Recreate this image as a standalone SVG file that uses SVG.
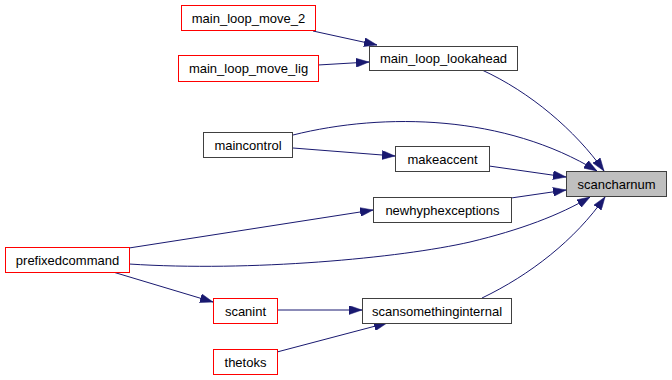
<svg xmlns="http://www.w3.org/2000/svg" width="672" height="380" viewBox="0 0 672 380">
  <style>
    .node rect { fill: #ffffff; stroke: #404040; stroke-width: 1; }
    .node.ext rect { stroke: #ff0000; }
    .node.root rect { fill: #bfbfbf; }
    .node text { font-family: "Liberation Sans", Arial, sans-serif; font-size: 13px; fill: #000000; text-anchor: middle; }
    .edges path { fill: none; stroke: #191970; stroke-width: 1; marker-end: url(#arrow); }
  </style>
  <defs>
    <marker id="arrow" viewBox="0 0 13 9" markerWidth="13" markerHeight="9" refX="13" refY="4.5" orient="auto" markerUnits="userSpaceOnUse">
      <path d="M0,0 L13,4.5 L0,9 z" fill="#191970" stroke="#191970" stroke-width="0.5"/>
    </marker>
  </defs>
  <rect width="672" height="380" fill="#ffffff"/>

  <g class="edges">
    <path d="M313,31 L377,45"/>
    <path d="M318,65 L369,62"/>
    <path d="M482,70 C530,92 575,130 604,171"/>
    <path d="M293,135 C385,112 505,115 597,171"/>
    <path d="M293,148 L395,156"/>
    <path d="M489,166 L566,177"/>
    <path d="M511,198 L566,190"/>
    <path d="M129,248 L373,210"/>
    <path d="M129,264 C250,272 400,258 470,242 C520,230 560,215 590,197"/>
    <path d="M113,272 L213,302"/>
    <path d="M277,310 L362,310"/>
    <path d="M277,352 L387,323"/>
    <path d="M482,298 C530,275 575,240 605,197"/>
  </g>

  <g id="node-main_loop_move_2" class="node ext">
    <rect x="181.5" y="5.5" width="134" height="25"/>
    <text x="248.5" y="22.5">main_loop_move_2</text>
  </g>
  <g id="node-main_loop_move_lig" class="node ext">
    <rect x="178.5" y="55.5" width="140" height="26"/>
    <text x="248.5" y="73">main_loop_move_lig</text>
  </g>
  <g id="node-main_loop_lookahead" class="node">
    <rect x="369.5" y="46.5" width="148" height="24"/>
    <text x="443.5" y="63">main_loop_lookahead</text>
  </g>
  <g id="node-maincontrol" class="node">
    <rect x="203.5" y="132.5" width="89" height="25"/>
    <text x="248" y="149.5">maincontrol</text>
  </g>
  <g id="node-makeaccent" class="node">
    <rect x="395.5" y="146.5" width="94" height="25"/>
    <text x="442.5" y="163.5">makeaccent</text>
  </g>
  <g id="node-scancharnum" class="node root">
    <rect x="566.5" y="171.5" width="100" height="25"/>
    <text x="616.5" y="188.5">scancharnum</text>
  </g>
  <g id="node-newhyphexceptions" class="node">
    <rect x="373.5" y="197.5" width="138" height="25"/>
    <text x="442.5" y="214.5">newhyphexceptions</text>
  </g>
  <g id="node-prefixedcommand" class="node ext">
    <rect x="5.5" y="247.5" width="124" height="25"/>
    <text x="67.5" y="264.5">prefixedcommand</text>
  </g>
  <g id="node-scanint" class="node ext">
    <rect x="213.5" y="298.5" width="64" height="25"/>
    <text x="245.5" y="315.5">scanint</text>
  </g>
  <g id="node-scansomethinginternal" class="node">
    <rect x="362.5" y="298.5" width="149" height="25"/>
    <text x="437" y="315.5">scansomethinginternal</text>
  </g>
  <g id="node-thetoks" class="node ext">
    <rect x="213.5" y="349.5" width="64" height="25"/>
    <text x="245.5" y="366.5">thetoks</text>
  </g>
</svg>
